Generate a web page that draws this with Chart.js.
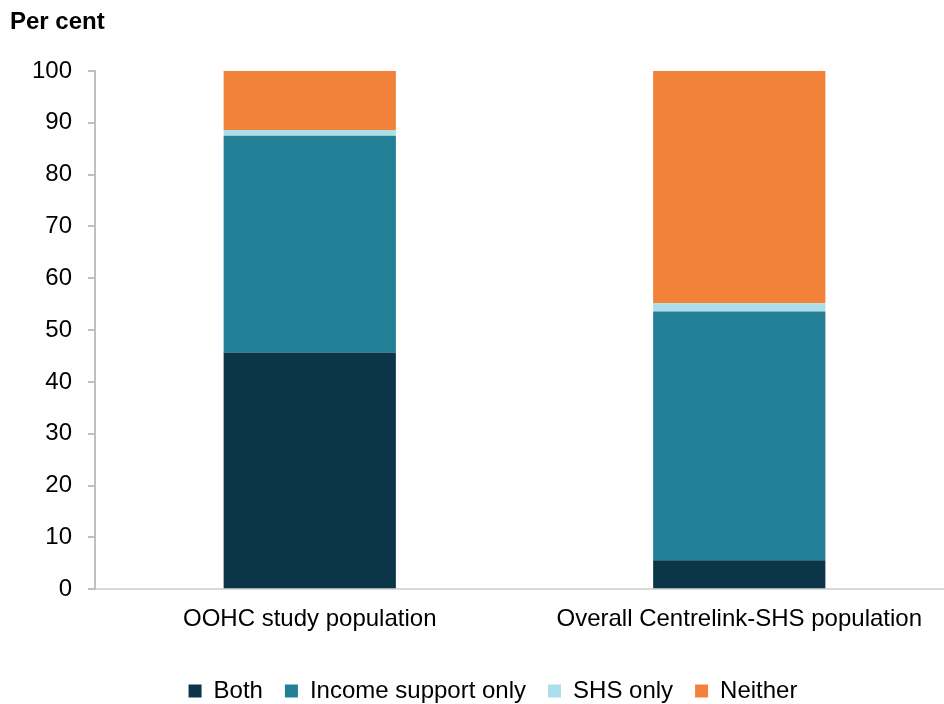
<!DOCTYPE html>
<html>
<head>
<meta charset="utf-8">
<script src="https://cdn.jsdelivr.net/npm/chart.js@4/dist/chart.umd.min.js"></script>
<style>
  html, body { margin: 0; padding: 0; background: #fff; overflow: hidden; }
  #wrap { width: 944px; height: 704px; position: relative; overflow: hidden; }
</style>
</head>
<body>
<div id="wrap"><canvas id="chart" width="954" height="704"></canvas></div>
<script>
// ----------------------
// Data
// ----------------------
const categories = ['OOHC study population', 'Overall Centrelink-SHS population'];
const both = [45.7, 5.6];
const incomeOnly = [41.8, 48.0];
const shsOnly = [1.1, 1.6];
const neither = [11.4, 44.8];
const yTicks = [0, 10, 20, 30, 40, 50, 60, 70, 80, 90, 100];

const colors = {
  both: '#0b3549',
  income: '#237f96',
  shs: '#acdfe9',
  neither: '#f2813a',
  axis: '#bfbfbf',
  xAxis: '#d9d9d9',
  text: '#000000',
};

const FONT = 'Liberation Sans, Arial, sans-serif';

// y-axis title drawn in the top-left corner
const titlePlugin = {
  id: 'perCent',
  afterDraw(chart) {
    const c = chart.ctx;
    c.save();
    c.font = 'bold 24px ' + FONT;
    c.fillStyle = colors.text;
    c.textBaseline = 'middle';
    c.fillText('Per cent', 10, 22);
    c.restore();
  },
};

function ds(label, values, color) {
  return {
    label,
    data: values,
    backgroundColor: color,
    borderWidth: 0,
    barPercentage: 0.401,
    categoryPercentage: 1,
  };
}

new Chart(document.getElementById('chart'), {
  type: 'bar',
  data: {
    labels: categories,
    datasets: [
      ds('Both', both, colors.both),
      ds('Income support only', incomeOnly, colors.income),
      ds('SHS only', shsOnly, colors.shs),
      ds('Neither', neither, colors.neither),
    ],
  },
  options: {
    responsive: false,
    animation: false,
    layout: { padding: { top: 71, right: 0, left: 32, bottom: -9 } },
    plugins: {
      legend: {
        position: 'bottom',
        labels: {
          boxWidth: 13,
          boxHeight: 13,
          padding: 22,
          color: colors.text,
          font: { size: 24, family: FONT },
        },
      },
      tooltip: { enabled: false },
    },
    scales: {
      x: {
        stacked: true,
        grid: { display: false },
        border: { color: colors.xAxis, width: 2 },
        ticks: {
          color: colors.text,
          font: { size: 24, family: FONT },
          padding: 8,
        },
        afterFit(axis) {
          axis.height += 15;
        },
      },
      y: {
        stacked: true,
        min: 0,
        max: 100,
        afterBuildTicks(axis) {
          axis.ticks = yTicks.map((v) => ({ value: v }));
        },
        afterFit(axis) {
          axis.width = 63;
        },
        grid: {
          drawOnChartArea: false,
          drawTicks: true,
          tickLength: 7,
          tickColor: colors.axis,
          lineWidth: 2,
        },
        border: { color: colors.axis, width: 2 },
        ticks: {
          color: colors.text,
          font: { size: 24, family: FONT },
          padding: 16,
        },
      },
    },
  },
  plugins: [titlePlugin],
});
</script>
</body>
</html>
